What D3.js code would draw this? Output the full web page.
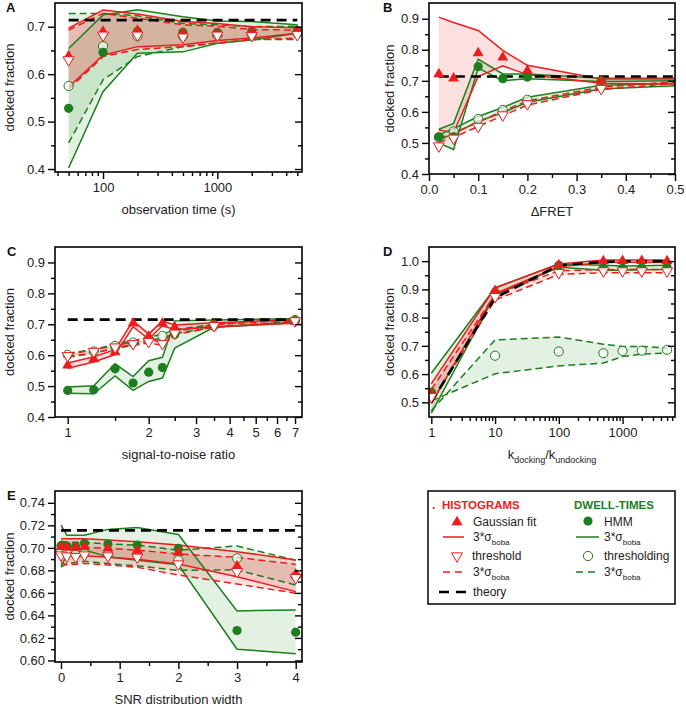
<!DOCTYPE html>
<html><head><meta charset="utf-8">
<script src="https://cdn.jsdelivr.net/npm/d3@7"></script>
<style>body{margin:0;background:#fff}svg{display:block;font-family:Arial,"Liberation Sans",sans-serif}</style>
</head><body><svg id="c" width="686" height="710"></svg>
<script>
// ---------- Panel A: observation time ----------
const aX = [50,100,200,500,1000,2000,5000];
const aGauss   = [0.638,0.690,0.692,0.686,0.686,0.689,0.692];
const aGaussHi = [0.697,0.735,0.727,0.711,0.707,0.700,0.698];
const aGaussLo = [0.573,0.640,0.658,0.662,0.671,0.676,0.686];
const aThr     = [0.630,0.682,0.682,0.678,0.682,0.681,0.683];
const aThrHi   = [0.693,0.728,0.718,0.704,0.701,0.694,0.693];
const aThrLo   = [0.568,0.637,0.652,0.658,0.666,0.673,0.676];
const aHmm     = [0.528,0.646,0.690,0.688,0.688,0.690,0.692];
const aHmmHi   = [0.654,0.725,0.736,0.721,0.712,0.711,0.704];
const aHmmLo   = [0.402,0.563,0.644,0.647,0.665,0.672,0.686];
const aDwt     = [0.575,0.659,0.680,0.680,0.682,0.684,0.686];
const aDwtHi   = [0.728,0.728,0.723,0.707,0.704,0.700,0.701];
const aDwtLo   = [0.455,0.588,0.637,0.658,0.665,0.673,0.673];
const aTheory  = [0.714,0.714,0.714,0.714,0.714,0.714,0.714];

// ---------- Panel B: ΔFRET ----------
const bX = [0.02,0.05,0.1,0.15,0.2,0.35,0.5];
const bGauss   = [0.722,0.708,0.789,0.776,0.733,0.698,null];
const bGaussHi = [0.905,0.888,0.862,0.798,0.750,0.706,0.706];
const bGaussLo = [0.542,0.533,0.714,0.748,0.720,0.692,0.690];
const bThr     = [0.490,0.515,0.553,0.590,0.626,0.675,null];
const bThrHi   = [0.515,0.532,0.567,0.603,0.636,0.680,0.697];
const bThrLo   = [0.502,0.518,0.553,0.588,0.622,0.672,0.692];
const bHmm     = [0.520,0.520,0.746,0.707,0.712,0.700,null];
const bHmmHi   = [0.544,0.563,0.770,0.722,0.722,0.708,0.708];
const bHmmLo   = [0.500,0.479,0.741,0.700,0.707,0.698,0.700];
const bDwt     = [0.518,0.537,0.577,0.606,0.639,0.680,null];
const bDwtHi   = [0.526,0.546,0.585,0.614,0.647,0.686,0.692];
const bDwtLo   = [0.510,0.529,0.569,0.598,0.631,0.674,0.684];
const bTheory  = [0.714,0.714,0.714,0.714,0.714,0.714,0.714];

// ---------- Panel C: signal-to-noise ratio ----------
const cX = [1,1.25,1.5,1.75,2,2.25,2.5,3.5,7];
const cGauss   = [0.567,0.587,0.610,0.703,0.660,0.703,0.690,0.698,0.709];
const cGaussHi = [0.575,0.595,0.618,0.712,0.668,0.711,0.698,0.705,0.714];
const cGaussLo = [0.558,0.578,0.602,0.692,0.652,0.695,0.682,0.692,0.703];
const cThr     = [0.598,0.612,0.626,0.637,0.644,0.637,0.671,0.695,0.711];
const cThrHi   = [0.603,0.617,0.631,0.642,0.649,0.643,0.676,0.699,0.714];
const cThrLo   = [0.593,0.607,0.621,0.632,0.639,0.632,0.666,0.691,0.707];
const cHmm     = [0.486,0.488,0.556,0.510,0.545,0.560,0.667,0.700,0.712];
const cHmmHi   = [0.497,0.501,0.572,0.531,0.582,0.593,0.711,0.714,0.718];
const cHmmLo   = [0.477,0.475,0.533,0.486,0.515,0.526,0.623,0.690,0.705];
const cDwt     = [0.601,0.612,0.630,0.641,0.652,0.662,0.676,0.695,0.714];
const cDwtHi   = [0.606,0.618,0.636,0.647,0.658,0.668,0.682,0.700,0.718];
const cDwtLo   = [0.596,0.606,0.624,0.635,0.646,0.656,0.670,0.690,0.710];
const cTheory  = [0.715,0.715,0.715,0.715,0.715,0.715,0.715,0.715,0.715];

// ---------- Panel D: k_docking / k_undocking ----------
const dX = [1,10,100,500,1000,2000,5000];
const dGauss   = [0.530,0.895,0.986,1.000,1.001,1.001,1.000];
const dGaussHi = [0.565,0.905,0.990,1.004,1.004,1.004,1.003];
const dGaussLo = [0.495,0.885,0.980,0.995,0.996,0.996,0.995];
const dThr     = [0.520,0.874,0.959,0.965,0.965,0.965,0.965];
const dThrHi   = [0.545,0.882,0.966,0.970,0.971,0.971,0.970];
const dThrLo   = [0.500,0.862,0.953,0.959,0.959,0.959,0.959];
const dHmm     = [0.536,0.890,0.985,0.976,0.975,0.976,0.978];
const dHmmHi   = [0.603,0.905,0.990,0.985,0.983,0.984,0.985];
const dHmmLo   = [0.462,0.880,0.978,0.968,0.968,0.969,0.970];
const dDwt     = [0.525,0.665,0.680,0.674,0.682,0.683,0.686];
const dDwtHi   = [0.470,0.721,0.731,0.706,0.698,0.698,0.692];
const dDwtLo   = [0.505,0.601,0.629,0.639,0.662,0.671,0.674];
const dTheory  = [0.500,0.870,0.985,0.997,0.999,1.000,1.000];

// ---------- Panel E: SNR distribution width ----------
const eX = [0,0.1,0.25,0.4,0.8,1.3,2,3,4];
const eGauss   = [0.7010,0.7004,0.7004,0.7010,0.6995,0.6975,0.6957,0.6839,0.6765];
const eGaussHi = [0.7080,0.7080,0.7080,0.7080,0.7070,0.7055,0.7025,0.6966,0.6892];
const eGaussLo = [0.6936,0.6934,0.6932,0.6930,0.6916,0.6898,0.6856,0.6744,0.6611];
const eThr     = [0.6936,0.6927,0.6921,0.6936,0.6927,0.6916,0.6856,0.6789,0.6735];
const eThrHi   = [0.7010,0.7005,0.7000,0.7005,0.6995,0.6980,0.6945,0.6916,0.6853];
const eThrLo   = [0.6868,0.6848,0.6855,0.6862,0.6848,0.6827,0.6759,0.6679,0.6597];
const eHmm     = [0.7019,0.7016,0.7012,0.7040,0.7034,0.7025,0.6995,0.6266,0.6251];
const eHmmHi   = [0.7202,0.7113,0.7113,0.7113,0.7164,0.7181,0.7119,0.6440,0.6449];
const eHmmLo   = [0.6840,0.6930,0.6960,0.6980,0.6920,0.6890,0.6850,0.6100,0.6060];
const eDwt     = [0.6960,0.6950,0.6940,0.6950,0.6940,0.6940,0.6890,0.6907,0.6750];
const eDwtHi   = [0.7060,0.7050,0.7050,0.7050,0.7034,0.7025,0.6980,0.7016,0.6890];
const eDwtLo   = [0.6830,0.6860,0.6870,0.6880,0.6860,0.6840,0.6800,0.6805,0.6670];
const eTheory  = [0.7155,0.7155,0.7155,0.7155,0.7155,0.7155,0.7155,0.7155,0.7155];

// ---------- tick values ----------
const aYMajor=[0.4,0.5,0.6,0.7], aYMinor=[0.45,0.55,0.65];
const aXMajor=[100,1000], aXMinor=[40,50,60,70,80,90,200,300,400,500,600,700,800,900,2000,3000,4000,5000];
const bYMajor=[0.4,0.5,0.6,0.7,0.8,0.9], bYMinor=[0.45,0.55,0.65,0.75,0.85];
const bXMajor=[0,0.1,0.2,0.3,0.4,0.5], bXMinor=[0.05,0.15,0.25,0.35,0.45];
const cYMajor=bYMajor, cYMinor=bYMinor;
const cXMajor=[1,2,3,4,5,6,7], cXMinor=[1.5,2.5,3.5,4.5,5.5,6.5];
const dYMajor=[0.5,0.6,0.7,0.8,0.9,1.0], dYMinor=[0.55,0.65,0.75,0.85,0.95];
const dXMajor=[1,10,100,1000], dXMinor=[2,3,4,5,6,7,8,9,20,30,40,50,60,70,80,90,200,300,400,500,600,700,800,900,2000,3000,4000,5000,6000];
const eYMajor=[0.60,0.62,0.64,0.66,0.68,0.70,0.72,0.74], eYMinor=[0.61,0.63,0.65,0.67,0.69,0.71,0.73];
const eXMajor=[0,1,2,3,4], eXMinor=[0.5,1.5,2.5,3.5];

const RED="#ee1c1c", GREEN="#1c7e1c";
const RED_FILL="rgba(240,70,70,0.17)", GREEN_FILL="rgba(40,150,40,0.13)";
const svg=d3.select("#c");
const defs=svg.append("defs");

function mk(X,arr,arrHi,arrLo){return {X,arr,arrHi,arrLo};}

function panel(o){
  const x=(o.log?d3.scaleLog():d3.scaleLinear()).domain(o.xd).range([o.l,o.r]);
  const y=d3.scaleLinear().domain(o.yd).range([o.b,o.t]);
  const cid="clip"+o.letter;
  defs.append("clipPath").attr("id",cid).append("rect")
    .attr("x",o.l).attr("y",o.t).attr("width",o.r-o.l).attr("height",o.b-o.t);
  const g=svg.append("g");
  const pg=g.append("g").attr("clip-path",`url(#${cid})`);
  const X=o.X;
  const area=d3.area().x(d=>x(d[0])).y0(d=>y(d[2])).y1(d=>y(d[1]));
  const line=d3.line().x(d=>x(d[0])).y(d=>y(d[1]));
  const bands=[
    {s:o.hmm,  col:GREEN, fill:GREEN_FILL, dash:null},
    {s:o.dwt,  col:GREEN, fill:GREEN_FILL, dash:o.dwtSolid?null:"7,4"},
    {s:o.gauss,col:RED,   fill:RED_FILL,   dash:null},
    {s:o.thr,  col:RED,   fill:RED_FILL,   dash:"7,4"}
  ];
  bands.forEach(b=>{
    pg.append("path").datum(X.map((d,i)=>[d,b.s.hi[i],b.s.lo[i]])).attr("d",area).attr("fill",b.fill);
  });
  bands.forEach(b=>{
    [b.s.hi,b.s.lo].forEach(arr=>{
      pg.append("path").datum(X.map((d,i)=>[d,arr[i]])).attr("d",line)
        .attr("fill","none").attr("stroke",b.col).attr("stroke-width",1.5)
        .attr("stroke-dasharray",b.dash);
    });
  });
  // theory
  pg.append("path").datum(X.map((d,i)=>[d,o.theory[i]])).attr("d",line)
    .attr("fill","none").attr("stroke","#000").attr("stroke-width",2.6).attr("stroke-dasharray","10,6");
  // markers
  const pts=(arr)=>X.map((d,i)=>[d,arr[i]]).filter(p=>p[1]!=null);
  pg.selectAll(null).data(pts(o.dwt.v)).join("circle")
    .attr("cx",d=>x(d[0])).attr("cy",d=>y(d[1])).attr("r",4.6)
    .attr("fill","rgba(255,255,255,0.65)").attr("stroke",GREEN).attr("stroke-width",1);
  pg.selectAll(null).data(pts(o.hmm.v)).join("circle")
    .attr("cx",d=>x(d[0])).attr("cy",d=>y(d[1])).attr("r",4.6).attr("fill",GREEN);
  const tri=d3.symbol(d3.symbolTriangle,52);
  pg.selectAll(null).data(pts(o.gauss.v)).join("path")
    .attr("d",tri).attr("transform",d=>`translate(${x(d[0])},${y(d[1])})`).attr("fill",RED);
  pg.selectAll(null).data(pts(o.thr.v)).join("path")
    .attr("d",tri).attr("transform",d=>`translate(${x(d[0])},${y(d[1])}) rotate(180)`)
    .attr("fill","#fff").attr("stroke",RED).attr("stroke-width",1);

  // axes
  const fmtX=o.fmtX, fmtY=o.fmtY;
  const ax=(gen,vals,size,fmt)=>gen.tickValues(vals).tickSize(size).tickFormat(fmt||"");
  const lab=g.append("g").attr("transform",`translate(${o.l},0)`)
    .call(ax(d3.axisLeft(y),o.yMajor,7,fmtY).tickPadding(3));
  const labm=g.append("g").attr("transform",`translate(${o.l},0)`).call(ax(d3.axisLeft(y),o.yMinor,4));
  const rm=g.append("g").attr("transform",`translate(${o.r},0)`).call(ax(d3.axisLeft(y),o.yMajor,7));
  const rmm=g.append("g").attr("transform",`translate(${o.r},0)`).call(ax(d3.axisLeft(y),o.yMinor,4));
  const bx=g.append("g").attr("transform",`translate(0,${o.b})`).call(ax(d3.axisBottom(x),o.xMajor,7,fmtX).tickPadding(4));
  const bxm=g.append("g").attr("transform",`translate(0,${o.b})`).call(ax(d3.axisBottom(x),o.xMinor,4));
  [lab,labm,rm,rmm,bx,bxm].forEach(s=>{
    s.select(".domain").remove();
    s.selectAll(".tick line").attr("stroke","#000").attr("stroke-width",1.4);
    s.selectAll(".tick text").attr("font-size",13).attr("fill","#222").attr("font-family","Arial, 'Liberation Sans', sans-serif");
  });
  g.append("rect").attr("x",o.l).attr("y",o.t).attr("width",o.r-o.l).attr("height",o.b-o.t)
    .attr("fill","none").attr("stroke","#000").attr("stroke-width",1.6);
  // labels
  g.append("text").attr("transform",`translate(${o.yl},${(o.t+o.b)/2}) rotate(-90)`)
    .attr("text-anchor","middle").attr("dy","0.35em").attr("font-size",13).attr("fill","#222").text("docked fraction");
  const xt=g.append("text").attr("x",(o.l+o.r)/2).attr("y",o.b+42).attr("text-anchor","middle")
    .attr("font-size",13).attr("fill","#222");
  if(o.xTitleSub){
    xt.append("tspan").text("k");
    xt.append("tspan").attr("font-size",9).attr("dy",4).text("docking");
    xt.append("tspan").attr("dy",-4).text("/k");
    xt.append("tspan").attr("font-size",9).attr("dy",4).text("undocking");
  } else xt.text(o.xTitle);
  g.append("text").attr("x",o.lx).attr("y",o.t+9).attr("font-size",13).attr("font-weight","bold").attr("fill","#111").text(o.letter);
}

const S=(v,hi,lo)=>({v,hi,lo});
const f1=d3.format(".1f"), f2=d3.format(".2f");

panel({letter:"A",l:55,r:302,t:3,b:172,lx:6,yl:9,log:true,xd:[38,5500],yd:[0.3937,0.75],X:aX,
  gauss:S(aGauss,aGaussHi,aGaussLo),thr:S(aThr,aThrHi,aThrLo),hmm:S(aHmm,aHmmHi,aHmmLo),dwt:S(aDwt,aDwtHi,aDwtLo),theory:aTheory,
  yMajor:aYMajor,yMinor:aYMinor,xMajor:aXMajor,xMinor:aXMinor,fmtY:f1,fmtX:d3.format("d"),xTitle:"observation time (s)"});
panel({letter:"B",l:429,r:675,t:3,b:174,lx:383,yl:389,log:false,xd:[0,0.5],yd:[0.4,0.9506],X:bX,dwtSolid:true,
  gauss:S(bGauss,bGaussHi,bGaussLo),thr:S(bThr,bThrHi,bThrLo),hmm:S(bHmm,bHmmHi,bHmmLo),dwt:S(bDwt,bDwtHi,bDwtLo),theory:bTheory,
  yMajor:bYMajor,yMinor:bYMinor,xMajor:bXMajor,xMinor:bXMinor,fmtY:f1,fmtX:f1,xTitle:"\u0394FRET"});
panel({letter:"C",l:55,r:302,t:247,b:417,lx:7,yl:9,log:true,xd:[0.897,7.43],yd:[0.4,0.95],X:cX,
  gauss:S(cGauss,cGaussHi,cGaussLo),thr:S(cThr,cThrHi,cThrLo),hmm:S(cHmm,cHmmHi,cHmmLo),dwt:S(cDwt,cDwtHi,cDwtLo),theory:cTheory,
  yMajor:cYMajor,yMinor:cYMinor,xMajor:cXMajor,xMinor:cXMinor,fmtY:f1,fmtX:d3.format("d"),xTitle:"signal-to-noise ratio"});
panel({letter:"D",l:429,r:675,t:247,b:417,lx:383,yl:389,log:true,xd:[0.92,6650],yd:[0.448,1.05],X:dX,
  gauss:S(dGauss,dGaussHi,dGaussLo),thr:S(dThr,dThrHi,dThrLo),hmm:S(dHmm,dHmmHi,dHmmLo),dwt:S(dDwt,dDwtHi,dDwtLo),theory:dTheory,
  yMajor:dYMajor,yMinor:dYMinor,xMajor:dXMajor,xMinor:dXMinor,fmtY:f1,fmtX:d3.format("d"),xTitleSub:true});
panel({letter:"E",l:55,r:302,t:491,b:662,lx:7,yl:9,log:false,xd:[-0.102,4.107],yd:[0.5986,0.7505],X:eX,
  gauss:S(eGauss,eGaussHi,eGaussLo),thr:S(eThr,eThrHi,eThrLo),hmm:S(eHmm,eHmmHi,eHmmLo),dwt:S(eDwt,eDwtHi,eDwtLo),theory:eTheory,
  yMajor:eYMajor,yMinor:eYMinor,xMajor:eXMajor,xMinor:eXMinor,fmtY:f2,fmtX:d3.format("d"),xTitle:"SNR distribution width"});

// ---------- legend ----------
const lg=svg.append("g").attr("font-size",12).attr("fill","#222");
lg.append("rect").attr("x",428).attr("y",491).attr("width",247).attr("height",113).attr("fill","#fff").attr("stroke","#000").attr("stroke-width",1.5);
lg.append("text").attr("x",432).attr("y",509).attr("fill",RED).attr("font-weight","bold").text(".");
lg.append("text").attr("x",442).attr("y",509).attr("fill",RED).attr("font-weight","bold").attr("font-size",11.5).text("HISTOGRAMS");
lg.append("text").attr("x",574).attr("y",509).attr("fill",GREEN).attr("font-weight","bold").attr("font-size",11.5).text("DWELL-TIMES");
const sig=(xx,yy)=>{const t=lg.append("text").attr("x",xx).attr("y",yy);t.append("tspan").text("3*\u03c3");t.append("tspan").attr("font-size",8).attr("dy",4).text("boba");};
const tri=d3.symbol(d3.symbolTriangle,52);
lg.append("path").attr("d",tri).attr("transform","translate(457,522)").attr("fill",RED);
lg.append("text").attr("x",473).attr("y",526).text("Gaussian fit");
lg.append("line").attr("x1",443).attr("x2",464).attr("y1",537).attr("y2",537).attr("stroke",RED).attr("stroke-width",1.5);
sig(473,541);
lg.append("path").attr("d",tri).attr("transform","translate(457,556) rotate(180)").attr("fill","#fff").attr("stroke",RED);
lg.append("text").attr("x",472).attr("y",560).text("threshold");
lg.append("line").attr("x1",443).attr("x2",464).attr("y1",572).attr("y2",572).attr("stroke",RED).attr("stroke-width",1.5).attr("stroke-dasharray","7,5");
sig(473,576);
lg.append("line").attr("x1",439).attr("x2",468).attr("y1",592).attr("y2",592).attr("stroke","#000").attr("stroke-width",2.6).attr("stroke-dasharray","10,7");
lg.append("text").attr("x",473).attr("y",596).text("theory");
lg.append("circle").attr("cx",588).attr("cy",521).attr("r",4.6).attr("fill",GREEN);
lg.append("text").attr("x",604).attr("y",526).text("HMM");
lg.append("line").attr("x1",576).attr("x2",599).attr("y1",537).attr("y2",537).attr("stroke",GREEN).attr("stroke-width",1.5);
sig(604,541);
lg.append("circle").attr("cx",588).attr("cy",556).attr("r",4.6).attr("fill","#fff").attr("stroke",GREEN);
lg.append("text").attr("x",604).attr("y",560).text("thresholding");
lg.append("line").attr("x1",576).attr("x2",599).attr("y1",572).attr("y2",572).attr("stroke",GREEN).attr("stroke-width",1.5).attr("stroke-dasharray","7,5");
sig(604,576);
</script></body></html>
